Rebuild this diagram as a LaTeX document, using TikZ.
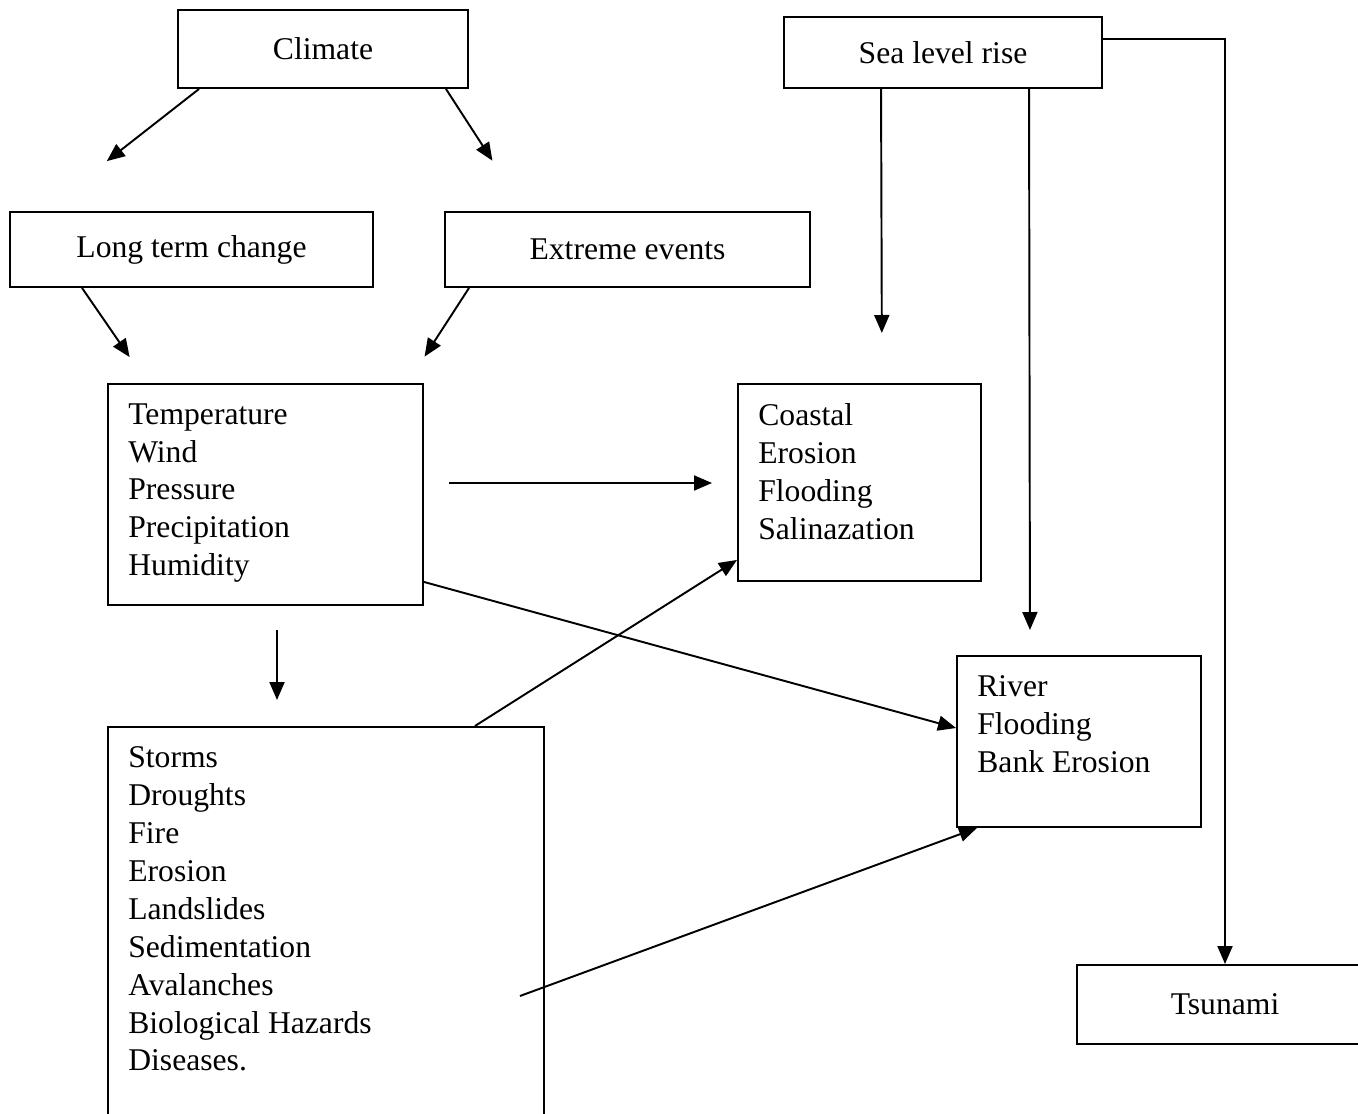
\documentclass[tikz,border=0pt]{standalone}
\usepackage{fontspec}
\setmainfont{Liberation Serif}
\usetikzlibrary{arrows.meta,positioning}

\begin{document}
\begin{tikzpicture}[
 x=0.2mm,y=-0.2mm,
 box/.style={draw,line width=1.1pt,inner sep=0pt,font=\fontsize{18}{21.6}\selectfont},
 list/.style={anchor=north west,align=left,inner xsep=4.2mm,inner ysep=4mm,font=\fontsize{18}{21.6}\selectfont},
 arr/.style={-{Triangle[length=3.6mm,width=3mm]},line width=1.1pt}
]
\useasboundingbox (0,0) rectangle (1358,1114);
\node[box,minimum width=58mm,minimum height=15.6mm] (climate) at (323,49) {Climate};
\node[box,minimum width=63.6mm,minimum height=14.2mm] (sea) at (943,52.5) {Sea level rise};
\node[box,minimum width=72.6mm,minimum height=15mm] (longterm) at (191.5,249.5) {Long term change};
\node[box,minimum width=73mm,minimum height=15mm] (extreme) at (627.5,249.5) {Extreme events};
\node[box,anchor=north west,minimum width=63mm,minimum height=44.2mm] (temp) at (107,383) {};
\node[list] (templist) at (temp.north west) {Temperature\\Wind\\Pressure\\Precipitation\\Humidity};
\node[box,anchor=north west,minimum width=48.6mm,minimum height=39.4mm] (coast) at (737,383) {};
\node[list] (coastlist) at (coast.north west) {Coastal\\Erosion\\Flooding\\Salinazation};
\node[box,anchor=north west,minimum width=48.8mm,minimum height=34.2mm] (river) at (956,655) {};
\node[list] (riverlist) at (river.north west) {River\\Flooding\\Bank Erosion};
\node[box,anchor=north west,minimum width=87.2mm,minimum height=82mm] (storms) at (107,726) {};
\node[list] (stormslist) at (storms.north west) {Storms\\Droughts\\Fire\\Erosion\\Landslides\\Sedimentation\\Avalanches\\Biological Hazards\\Diseases.};
\node[box,minimum width=59.2mm,minimum height=15.8mm] (tsunami) at (1225,1004.5) {Tsunami};
\draw[arr,shorten >=16.2mm] ([xshift=4.4mm]climate.south west) -- ([xshift=6.8mm]longterm.north west);
\draw[arr,shorten >=12mm] ([xshift=-4.6mm]climate.south east) -- ([xshift=16.2mm]extreme.north west);
\draw[arr,shorten >=6.3mm] ([xshift=14.6mm]longterm.south west) -- ([xshift=8.1mm]temp.north west);
\draw[arr,shorten >=6.3mm] ([xshift=5mm]extreme.south west) -- ([xshift=-3.3mm]temp.north east);
\draw[arr,shorten >=10mm] ([xshift=19.6mm]sea.south west) -- ([xshift=29mm]coast.north west);
\draw[arr,shorten >=5mm] ([xshift=49.2mm]sea.south west) -- ([xshift=14.8mm]river.north west);
\draw[arr] ([yshift=-4.6mm]sea.north east) -| (tsunami.north);
\draw[arr,shorten <=5mm,shorten >=5mm] ([yshift=-20mm]temp.north east) -- ([yshift=-20mm]coast.north west);
\draw[arr] ([yshift=4.8mm]temp.south east) -- ([yshift=-14.6mm]river.north west);
\draw[arr,shorten <=4.8mm,shorten >=5.2mm] ([xshift=34mm]temp.south west) -- ([xshift=34mm]storms.north west);
\draw[arr] ([xshift=-14mm]storms.north east) -- ([yshift=4.4mm]coast.south west);
\draw[arr] ([xshift=-5mm,yshift=-54mm]storms.north east) -- ([xshift=4.2mm]river.south west);
\end{tikzpicture}
\end{document}
